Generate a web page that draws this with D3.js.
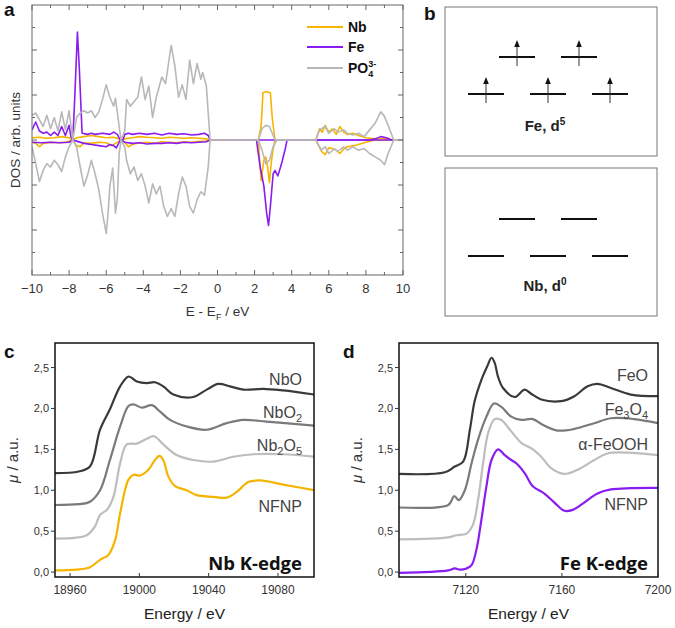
<!DOCTYPE html>
<html>
<head>
<meta charset="utf-8">
<script src="https://cdn.jsdelivr.net/npm/d3@7"></script>
<style>
  body { margin: 0; background: #fff; }
  svg { display: block; font-family: "Liberation Sans", Arial, sans-serif; }
</style>
</head>
<body>
<svg id="fig" width="675" height="628"></svg>
<script>
// ---------- panel a: projected DOS (spin up > 0, spin down < 0) ----------
const poUp = [[-10,1.1],[-9.8,1.2],[-9.6,0.9],[-9.4,0.6],[-9.2,1.1],[-9.0,0.5],[-8.8,1.0],[-8.6,0.4],[-8.4,1.25],[-8.2,0.45],[-8.0,1.3],[-7.85,0.3],[-7.8,0],[-7.6,1.0],[-7.4,1.2],[-7.2,1.3],[-7.0,1.2],[-6.8,1.3],[-6.6,1.0],[-6.4,1.25],[-6.2,1.8],[-6.0,2.45],[-5.8,1.9],[-5.6,1.5],[-5.5,1.85],[-5.3,0.6],[-5.2,0],[-5.0,0.4],[-4.9,1.8],[-4.7,1.5],[-4.5,1.7],[-4.3,1.9],[-4.1,2.8],[-3.9,1.8],[-3.7,2.4],[-3.5,1.0],[-3.3,1.9],[-3.0,2.8],[-2.8,2.5],[-2.5,4.2],[-2.3,3.3],[-2.1,1.9],[-1.9,2.45],[-1.7,1.8],[-1.5,3.55],[-1.3,2.5],[-1.1,3.4],[-0.9,2.7],[-0.8,3.0],[-0.6,2.4],[-0.4,0],[2.2,0],[2.4,0.5],[2.6,0.65],[2.8,0.6],[3.0,0.2],[3.1,0],[5.3,0],[5.5,0.45],[5.8,0.6],[6.0,0.3],[6.3,0.5],[6.5,0.35],[6.8,0.45],[7.0,0.3],[7.3,0.22],[7.6,0.3],[7.9,0.15],[8.2,0.45],[8.5,0.75],[8.8,1.25],[9.0,1.05],[9.2,0.65],[9.5,0],[10,0]];
const poDn = [[-10,-0.3],[-9.8,-1.05],[-9.6,-1.85],[-9.4,-1.35],[-9.2,-1.05],[-9.0,-1.2],[-8.8,-0.9],[-8.6,-1.1],[-8.4,-1.4],[-8.2,-0.75],[-8.0,-0.3],[-7.8,0],[-7.6,-0.3],[-7.4,-1.2],[-7.2,-2.05],[-7.0,-1.55],[-6.8,-0.9],[-6.6,-1.5],[-6.4,-2.2],[-6.2,-3.25],[-6.0,-4.15],[-5.9,-3.25],[-5.8,-2.05],[-5.65,-1.25],[-5.5,-3.25],[-5.4,-2.6],[-5.3,-0.6],[-5.2,0],[-5.0,-0.3],[-4.9,-0.9],[-4.7,-1.5],[-4.5,-1.2],[-4.3,-1.8],[-4.1,-1.5],[-3.9,-2.05],[-3.7,-2.8],[-3.5,-1.95],[-3.3,-2.4],[-3.1,-2.05],[-2.9,-2.95],[-2.7,-3.4],[-2.5,-3.05],[-2.3,-3.4],[-2.1,-2.4],[-1.9,-1.65],[-1.7,-2.05],[-1.5,-2.95],[-1.3,-3.25],[-1.1,-2.65],[-0.9,-2.3],[-0.7,-2.45],[-0.5,-1.2],[-0.4,0],[2.2,0],[2.4,-0.45],[2.6,-1.05],[2.8,-0.9],[3.0,-0.3],[3.2,0],[5.3,0],[5.6,-0.45],[5.8,-0.3],[6.0,-0.6],[6.3,-0.4],[6.5,-0.5],[6.8,-0.3],[7.0,-0.45],[7.3,-0.3],[7.6,-0.45],[7.9,-0.38],[8.2,-0.6],[8.5,-0.75],[8.8,-0.9],[9.0,-1.1],[9.2,-0.6],[9.5,0],[10,0]];
const nbUp = [[-10,0.1],[-9.6,0.12],[-9.2,0.08],[-8.8,0.1],[-8.4,0.15],[-8.0,0.1],[-7.8,0],[-7.6,0.1],[-7.2,0.15],[-6.8,0.2],[-6.4,0.15],[-6.0,0.1],[-5.6,0.12],[-5.3,0.05],[-5.2,0],[-5.0,0.05],[-4.6,0.1],[-4.2,0.15],[-3.8,0.12],[-3.4,0.1],[-3.0,0.08],[-2.6,0.12],[-2.2,0.1],[-1.8,0.08],[-1.4,0.1],[-1.0,0.08],[-0.6,0.05],[-0.4,0],[2.2,0],[2.35,0.6],[2.45,2.1],[2.6,2.15],[2.85,2.1],[2.95,1.0],[3.1,0],[5.3,0],[5.5,0.5],[5.65,0.35],[5.8,0.65],[6.0,0.35],[6.2,0.5],[6.4,0.25],[6.6,0.6],[6.8,0.35],[7.0,0.25],[7.3,0.3],[7.6,0.2],[8.0,0.1],[8.5,0.05],[9.0,0.08],[9.3,0]];
const nbDn = [[-10,-0.1],[-9.8,-0.15],[-9.6,-0.3],[-9.4,-0.15],[-9.0,-0.1],[-8.6,-0.12],[-8.2,-0.1],[-7.8,0],[-7.6,-0.25],[-7.4,-0.3],[-7.2,-0.12],[-6.8,-0.15],[-6.4,-0.1],[-6.0,-0.12],[-5.7,-0.25],[-5.5,-0.15],[-5.3,-0.05],[-5.2,0],[-5.0,-0.1],[-4.8,-0.3],[-4.6,-0.2],[-4.2,-0.12],[-3.8,-0.1],[-3.4,-0.15],[-3.0,-0.08],[-2.6,-0.1],[-2.2,-0.12],[-1.8,-0.08],[-1.4,-0.1],[-1.0,-0.06],[-0.6,-0.05],[-0.4,0],[2.2,0],[2.35,-1.8],[2.5,-0.9],[2.6,-0.75],[2.7,-1.2],[2.8,-1.9],[2.9,-1.0],[3.0,-0.4],[3.1,0],[5.3,0],[5.6,-0.5],[5.8,-0.65],[6.0,-0.35],[6.3,-0.4],[6.6,-0.6],[6.8,-0.4],[7.0,-0.3],[7.5,-0.22],[8.0,-0.1],[8.5,0],[9.5,0]];
const feUp = [[-10,0.45],[-9.8,0.8],[-9.6,0.4],[-9.4,0.3],[-9.2,0.35],[-9.0,0.2],[-8.8,0.35],[-8.6,0.2],[-8.4,0.6],[-8.2,0.2],[-8.0,0.65],[-7.9,0.15],[-7.8,0],[-7.7,1.8],[-7.55,4.8],[-7.45,3.2],[-7.3,0.3],[-7.0,0.25],[-6.8,0.3],[-6.6,0.25],[-6.2,0.3],[-5.8,0.25],[-5.6,0.35],[-5.4,0.25],[-5.25,0],[-5.1,0],[-5.0,0.25],[-4.8,0.3],[-4.6,0.25],[-4.2,0.3],[-3.8,0.25],[-3.4,0.3],[-3.0,0.22],[-2.6,0.3],[-2.2,0.25],[-1.8,0.28],[-1.4,0.22],[-1.0,0.25],[-0.7,0.3],[-0.5,0.2],[-0.4,0],[8.2,0],[8.5,0.05],[8.8,0.15],[9.1,0.1],[9.4,0]];
const feDn = [[-10,-0.1],[-9.5,-0.12],[-9,-0.1],[-8.5,-0.12],[-8,-0.1],[-7.8,0],[-7.6,-0.05],[-7.2,-0.15],[-6.8,-0.2],[-6.4,-0.25],[-6.0,-0.3],[-5.8,-0.2],[-5.6,-0.25],[-5.45,-0.35],[-5.3,-0.1],[-5.2,0],[-5.0,-0.1],[-4.6,-0.15],[-4.2,-0.12],[-3.8,-0.18],[-3.4,-0.15],[-3.0,-0.15],[-2.6,-0.12],[-2.2,-0.15],[-1.8,-0.1],[-1.4,-0.12],[-1.0,-0.1],[-0.6,-0.08],[-0.4,0],[2.1,0],[2.3,-1.2],[2.5,-2.05],[2.65,-3.25],[2.75,-3.8],[2.85,-2.95],[3.0,-1.5],[3.1,-1.35],[3.25,-1.6],[3.4,-1.2],[3.5,-0.9],[3.65,-0.4],[3.75,0],[9.5,0]];
const dosSeries = [
  {name: "Nb", up: nbUp, dn: nbDn, color: "#f7b500"},
  {name: "Fe", up: feUp, dn: feDn, color: "#8a1cf2"},
  {name: "PO4", up: poUp, dn: poDn, color: "#b8b8b8"}
];
const dosTicks = [-10, -8, -6, -4, -2, 0, 2, 4, 6, 8, 10];

// ---------- panel b: d-level occupations ----------
// pos: horizontal slot, lvl: 0 = lower set, 1 = upper set, e: electrons
const levelsFe = [{pos:0,lvl:0,e:1},{pos:1,lvl:0,e:1},{pos:2,lvl:0,e:1},{pos:0.5,lvl:1,e:1},{pos:1.5,lvl:1,e:1}];
const levelsNb = [{pos:0,lvl:0,e:0},{pos:1,lvl:0,e:0},{pos:2,lvl:0,e:0},{pos:0.5,lvl:1,e:0},{pos:1.5,lvl:1,e:0}];

// ---------- panel c: Nb K-edge XANES ----------
const nbO = [[18951,1.21],[18965,1.23],[18971.5,1.29],[18977.3,1.74],[18983,1.99],[18988.9,2.27],[18993.7,2.39],[18998.5,2.33],[19004.3,2.31],[19009,2.32],[19013.8,2.27],[19019.6,2.17],[19031,2.14],[19038.9,2.23],[19045.6,2.3],[19052.3,2.27],[19060,2.23],[19071.5,2.24],[19083,2.22],[19101,2.17]];
const nbO2 = [[18951,0.82],[18965,0.83],[18971.5,0.86],[18977.3,1.0],[18983,1.37],[18988.9,1.78],[18993.7,2.03],[18996.6,2.05],[19001.4,2.01],[19007.2,2.04],[19012,1.96],[19017.7,1.86],[19027.3,1.78],[19038.9,1.74],[19050.4,1.82],[19060,1.86],[19073.5,1.84],[19101,1.79]];
const nb2O5 = [[18951,0.41],[18969.6,0.45],[18974.4,0.56],[18977.3,0.7],[18981.2,0.76],[18985,0.92],[18988.9,1.33],[18992.7,1.56],[18998.5,1.57],[19004.3,1.63],[19008.5,1.66],[19013.8,1.56],[19021.5,1.43],[19031.1,1.37],[19042.7,1.35],[19054.2,1.41],[19065.8,1.44],[19083,1.44],[19101,1.41]];
const nbNFNP = [[18951,0.02],[18963.8,0.03],[18971.5,0.06],[18977.3,0.15],[18982.1,0.21],[18986,0.39],[18988.9,0.72],[18993.7,1.13],[18996.6,1.19],[19000.4,1.18],[19005.2,1.25],[19009,1.37],[19011.6,1.42],[19013.8,1.37],[19016.7,1.17],[19020.6,1.05],[19027.3,1.0],[19033.1,0.94],[19042.7,0.92],[19050.4,0.91],[19056.2,0.98],[19062.9,1.1],[19069.6,1.12],[19083,1.07],[19101,1.0]];
const nbTicks = [18960, 19000, 19040, 19080];

// ---------- panel d: Fe K-edge XANES ----------
const feO = [[7092,1.2],[7111.3,1.22],[7115.4,1.29],[7118.9,1.35],[7121.7,1.74],[7123.7,2.09],[7126.5,2.35],[7129,2.52],[7130.7,2.62],[7132,2.56],[7133.4,2.39],[7135.5,2.25],[7140.3,2.14],[7144.5,2.23],[7147.2,2.18],[7151.4,2.11],[7159.7,2.09],[7165.2,2.15],[7170.7,2.27],[7174.8,2.3],[7180.4,2.25],[7188.7,2.17],[7200,2.15]];
const fe3O4 = [[7092,0.79],[7112.7,0.82],[7115.2,0.93],[7117.1,0.88],[7119.6,1.0],[7122.4,1.33],[7125.1,1.62],[7128.6,1.9],[7131.7,2.06],[7134.8,2.02],[7138.9,1.9],[7143.1,1.86],[7147.9,1.87],[7152,1.8],[7158.3,1.73],[7165.2,1.75],[7173.5,1.82],[7180.4,1.88],[7190,1.87],[7200,1.82]];
const feOOH = [[7092,0.4],[7112.7,0.425],[7116.1,0.45],[7120.3,0.47],[7123,0.58],[7125.1,0.88],[7127.2,1.33],[7129.3,1.7],[7132,1.87],[7134.8,1.86],[7138.9,1.72],[7143.1,1.58],[7147.9,1.5],[7151.4,1.41],[7155.5,1.27],[7161,1.2],[7166.5,1.25],[7173.5,1.37],[7179,1.45],[7187.3,1.46],[7200,1.43]];
const feNFNP = [[7092,-0.01],[7112.7,0.02],[7115.4,0.045],[7117.5,0.03],[7120.3,0.045],[7122.4,0.085],[7124.4,0.27],[7126.5,0.64],[7128.6,1.05],[7130.7,1.37],[7133.4,1.5],[7136.2,1.43],[7138.9,1.37],[7141,1.33],[7144.5,1.21],[7147.9,1.05],[7152.7,0.96],[7156.9,0.85],[7161,0.75],[7164.5,0.76],[7169.3,0.85],[7174.8,0.96],[7180.4,1.01],[7200,1.03]];
const feTicks = [7120, 7160, 7200];
const muTicks = [0, 0.5, 1.0, 1.5, 2.0, 2.5];

const svg = d3.select("#fig");
const fmtComma = d => d3.format(".1f")(d).replace(".", ",");

function panelLetter(x, y, t) {
  svg.append("text").attr("x", x).attr("y", y).attr("font-size", 19)
    .attr("font-weight", "bold").attr("fill", "#111").text(t);
}

// ===================== panel a =====================
{
  const L = 32, R = 403, T = 5, B = 275;
  const x = d3.scaleLinear().domain([-10, 10]).range([L, R]);
  const y = d3.scaleLinear().domain([-6, 6]).range([B, T]);
  const g = svg.append("g");

  const clip = svg.append("clipPath").attr("id", "clipA");
  clip.append("rect").attr("x", L).attr("y", T).attr("width", R - L).attr("height", B - T);

  const line = d3.line().x(d => x(d[0])).y(d => y(d[1]));
  const lines = g.append("g").attr("clip-path", "url(#clipA)");
  dosSeries.forEach(s => {
    [s.up, s.dn].forEach(arr => {
      lines.append("path").datum(arr).attr("d", line)
        .attr("fill", "none").attr("stroke", s.color).attr("stroke-width", 1.6)
        .attr("stroke-linejoin", "round");
    });
  });

  // frame and inward ticks
  g.append("rect").attr("x", L).attr("y", T).attr("width", R - L).attr("height", B - T)
    .attr("fill", "none").attr("stroke", "#666").attr("stroke-width", 1);
  const xMinor = d3.range(-9, 10, 2);
  const tk = g.append("g").attr("stroke", "#666").attr("stroke-width", 1);
  dosTicks.forEach(v => {
    tk.append("line").attr("x1", x(v)).attr("x2", x(v)).attr("y1", B).attr("y2", B - 5);
    tk.append("line").attr("x1", x(v)).attr("x2", x(v)).attr("y1", T).attr("y2", T + 5);
  });
  xMinor.forEach(v => {
    tk.append("line").attr("x1", x(v)).attr("x2", x(v)).attr("y1", B).attr("y2", B - 3);
    tk.append("line").attr("x1", x(v)).attr("x2", x(v)).attr("y1", T).attr("y2", T + 3);
  });
  d3.range(-5, 6).forEach(v => {
    const len = v % 2 === 0 ? 5 : 3;
    tk.append("line").attr("x1", L).attr("x2", L + len).attr("y1", y(v)).attr("y2", y(v));
    tk.append("line").attr("x1", R).attr("x2", R - len).attr("y1", y(v)).attr("y2", y(v));
  });

  g.selectAll(".xl").data(dosTicks).enter().append("text")
    .attr("x", d => x(d)).attr("y", B + 18).attr("text-anchor", "middle")
    .attr("font-size", 13).attr("fill", "#333")
    .text(d => d < 0 ? "\u2212" + Math.abs(d) : d);

  const xt = g.append("text").attr("x", (L + R) / 2).attr("y", 316)
    .attr("text-anchor", "middle").attr("font-size", 13.5).attr("fill", "#333");
  xt.append("tspan").text("E - E");
  xt.append("tspan").attr("font-size", 9).attr("dy", 4).text("F");
  xt.append("tspan").attr("dy", -4).text(" / eV");

  g.append("text").attr("transform", `translate(20,${(T + B) / 2}) rotate(-90)`)
    .attr("text-anchor", "middle").attr("font-size", 13.5).attr("fill", "#333")
    .text("DOS / arb. units");

  // legend
  const legend = g.append("g");
  dosSeries.forEach((s, i) => {
    const ly = [27, 47, 68][i];
    legend.append("line").attr("x1", 307).attr("x2", 343).attr("y1", ly).attr("y2", ly)
      .attr("stroke", s.color).attr("stroke-width", 2);
    if (s.name === "PO4") {
      const t = legend.append("text").attr("x", 348).attr("y", ly + 5)
        .attr("font-size", 14).attr("font-weight", "bold").attr("fill", "#111").text("PO");
      const w = t.node().getComputedTextLength();
      legend.append("text").attr("x", 348 + w).attr("y", ly - 1)
        .attr("font-size", 9).attr("font-weight", "bold").attr("fill", "#111").text("3-");
      legend.append("text").attr("x", 348 + w).attr("y", ly + 9)
        .attr("font-size", 9).attr("font-weight", "bold").attr("fill", "#111").text("4");
    } else {
      legend.append("text").attr("x", 348).attr("y", ly + 5)
        .attr("font-size", 14).attr("font-weight", "bold").attr("fill", "#111").text(s.name);
    }
  });
  panelLetter(4, 16, "a");
}

// ===================== panel b =====================
{
  const boxL = 445, boxR = 657;
  const px = d3.scaleLinear().domain([0, 2]).range([486, 610]);
  const boxes = [
    {top: 7, bot: 156, levels: levelsFe, label: "Fe, d", sup: "5", y: d3.scaleLinear().domain([0, 1]).range([94, 57])},
    {top: 168, bot: 316, levels: levelsNb, label: "Nb, d", sup: "0", y: d3.scaleLinear().domain([0, 1]).range([256, 219])}
  ];
  boxes.forEach(b => {
    const g = svg.append("g");
    g.append("rect").attr("x", boxL).attr("y", b.top).attr("width", boxR - boxL).attr("height", b.bot - b.top)
      .attr("fill", "none").attr("stroke", "#777").attr("stroke-width", 1);
    g.selectAll(".lv").data(b.levels).enter().append("line")
      .attr("x1", d => px(d.pos) - 18).attr("x2", d => px(d.pos) + 18)
      .attr("y1", d => b.y(d.lvl)).attr("y2", d => b.y(d.lvl))
      .attr("stroke", "#111").attr("stroke-width", 2);
    const up = b.levels.filter(d => d.e > 0);
    g.selectAll(".el").data(up).enter().append("line")
      .attr("x1", d => px(d.pos)).attr("x2", d => px(d.pos))
      .attr("y1", d => b.y(d.lvl) + 9).attr("y2", d => b.y(d.lvl) - 11)
      .attr("stroke", "#333").attr("stroke-width", 1);
    g.selectAll(".hd").data(up).enter().append("path")
      .attr("d", d => {
        const cx = px(d.pos), ty = b.y(d.lvl) - 17;
        return `M${cx},${ty} L${cx + 2.8},${ty + 7} L${cx - 2.8},${ty + 7} Z`;
      })
      .attr("fill", "#111");
    const t = g.append("text").attr("x", 545).attr("y", b.bot - 25).attr("text-anchor", "middle")
      .attr("font-size", 15).attr("font-weight", "bold").attr("fill", "#222");
    t.append("tspan").text(b.label);
    t.append("tspan").attr("font-size", 10).attr("dy", -6).text(b.sup);
  });
  panelLetter(424, 20, "b");
}

// ===================== panels c, d =====================
function xanesPanel(opt) {
  const {L, R, T, B} = opt;
  const x = d3.scaleLinear().domain(opt.xDomain).range([L, R]);
  const y = d3.scaleLinear().domain([-0.06, 2.8]).range([B, T]);
  const g = svg.append("g");
  const cid = "clip" + opt.letter;
  svg.append("clipPath").attr("id", cid).append("rect")
    .attr("x", L).attr("y", T).attr("width", R - L).attr("height", B - T);

  const line = d3.line().x(d => x(d[0])).y(d => y(d[1])).curve(d3.curveCatmullRom.alpha(0.5));
  const lg = g.append("g").attr("clip-path", `url(#${cid})`);
  opt.series.forEach(s => {
    lg.append("path").datum(s.data).attr("d", line)
      .attr("fill", "none").attr("stroke", s.color).attr("stroke-width", 2.2)
      .attr("stroke-linejoin", "round");
  });

  g.append("rect").attr("x", L).attr("y", T).attr("width", R - L).attr("height", B - T)
    .attr("fill", "none").attr("stroke", "#111").attr("stroke-width", 1.5);

  // y ticks (outward, short) and labels
  muTicks.forEach(v => {
    g.append("line").attr("x1", L - 4).attr("x2", L).attr("y1", y(v)).attr("y2", y(v))
      .attr("stroke", "#333").attr("stroke-width", 1);
  });
  g.selectAll(".yl").data(muTicks).enter().append("text")
    .attr("x", L - 6).attr("y", d => y(d) + 4).attr("text-anchor", "end")
    .attr("font-size", 11).attr("fill", "#333").text(fmtComma);

  opt.xTicks.forEach(v => {
    g.append("line").attr("x1", x(v)).attr("x2", x(v)).attr("y1", B).attr("y2", B - 4)
      .attr("stroke", "#333").attr("stroke-width", 1);
  });
  g.selectAll(".xl").data(opt.xTicks).enter().append("text")
    .attr("x", d => x(d)).attr("y", B + 17).attr("text-anchor", "middle")
    .attr("font-size", 12).attr("fill", "#333").text(d => d);

  g.append("text").attr("x", (L + R) / 2).attr("y", 619).attr("text-anchor", "middle")
    .attr("font-size", 15.5).attr("fill", "#222").text("Energy / eV");

  const yl = g.append("text").attr("transform", `translate(${L - 37},460) rotate(-90)`)
    .attr("text-anchor", "middle").attr("font-size", 15).attr("fill", "#333");
  yl.append("tspan").attr("font-style", "italic").text("\u03bc");
  yl.append("tspan").text(" / a.u.");

  // series labels
  opt.series.forEach(s => {
    const t = g.append("text").attr("x", opt.labelX).attr("y", s.ly).attr("text-anchor", "end")
      .attr("font-size", 16).attr("fill", "#444");
    s.label.forEach(p => {
      const sp = t.append("tspan").text(p.t);
      if (p.sub) sp.attr("font-size", 11).attr("dy", 4);
      else if (p.back) sp.attr("dy", -4);
    });
  });

  g.append("text").attr("x", opt.labelX).attr("y", 570).attr("text-anchor", "end")
    .attr("font-size", 18.5).attr("font-weight", "bold").attr("fill", "#111")
    .attr("font-family", "'Open Sans', sans-serif").text(opt.edge);

  panelLetter(opt.letterX, 358, opt.letter);
}

xanesPanel({
  letter: "c", letterX: 4, L: 55, R: 314, T: 343, B: 577, xDomain: [18951.3, 19100.8],
  xTicks: nbTicks, labelX: 302, edge: "Nb K-edge",
  series: [
    {data: nbO, color: "#3a3a3a", ly: 385, label: [{t: "NbO"}]},
    {data: nbO2, color: "#7a7a7a", ly: 418, label: [{t: "NbO"}, {t: "2", sub: true}]},
    {data: nb2O5, color: "#bdbdbd", ly: 451, label: [{t: "Nb"}, {t: "2", sub: true}, {t: "O", back: true}, {t: "5", sub: true}]},
    {data: nbNFNP, color: "#f5b400", ly: 512, label: [{t: "NFNP"}]}
  ]
});

xanesPanel({
  letter: "d", letterX: 343, L: 399, R: 658, T: 343, B: 577, xDomain: [7092.2, 7200],
  xTicks: feTicks, labelX: 648, edge: "Fe K-edge",
  series: [
    {data: feO, color: "#3a3a3a", ly: 381, label: [{t: "FeO"}]},
    {data: fe3O4, color: "#7a7a7a", ly: 415, label: [{t: "Fe"}, {t: "3", sub: true}, {t: "O", back: true}, {t: "4", sub: true}]},
    {data: feOOH, color: "#bdbdbd", ly: 450, label: [{t: "\u03b1-FeOOH"}]},
    {data: feNFNP, color: "#8a1cf2", ly: 510, label: [{t: "NFNP"}]}
  ]
});
</script>
</body>
</html>
